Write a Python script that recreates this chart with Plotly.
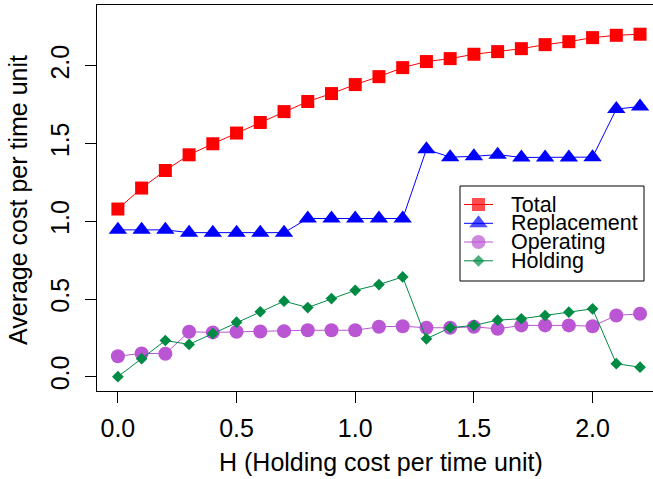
import plotly.graph_objects as go

# ---------------- data ----------------
H = [0.0, 0.1, 0.2, 0.3, 0.4, 0.5, 0.6, 0.7, 0.8, 0.9, 1.0, 1.1,
     1.2, 1.3, 1.4, 1.5, 1.6, 1.7, 1.8, 1.9, 2.0, 2.1, 2.2]

total = [1.079, 1.214, 1.327, 1.428, 1.499, 1.568, 1.636, 1.706, 1.771, 1.822,
         1.880, 1.931, 1.989, 2.028, 2.047, 2.075, 2.092, 2.111, 2.137, 2.156,
         2.182, 2.197, 2.204]

replacement = [0.945, 0.945, 0.945, 0.927, 0.927, 0.927, 0.927, 0.927, 1.018, 1.018,
               1.018, 1.018, 1.018, 1.463, 1.413, 1.418, 1.429, 1.411, 1.411, 1.411,
               1.413, 1.722, 1.739]

operating = [0.132, 0.150, 0.148, 0.289, 0.285, 0.289, 0.291, 0.293, 0.299, 0.299,
             0.299, 0.321, 0.325, 0.315, 0.315, 0.321, 0.308, 0.330, 0.330, 0.330,
             0.325, 0.394, 0.405]

holding = [0.000, 0.116, 0.233, 0.208, 0.278, 0.351, 0.418, 0.486, 0.445, 0.503,
           0.556, 0.593, 0.642, 0.244, 0.315, 0.330, 0.364, 0.373, 0.394, 0.415,
           0.437, 0.084, 0.061]

series_names = ["Total", "Replacement", "Operating", "Holding"]
x_ticks = [0.0, 0.5, 1.0, 1.5, 2.0]
x_ticklabels = ["0.0", "0.5", "1.0", "1.5", "2.0"]
y_ticks = [0.0, 0.5, 1.0, 1.5, 2.0]
y_ticklabels = ["0.0", "0.5", "1.0", "1.5", "2.0"]

# ---------------- styles ----------------
FONT = "Liberation Sans, Arial, sans-serif"
styles = {
    "Total": dict(color="#FF0000", symbol="square", size=13),
    "Replacement": dict(color="#0000FF", symbol="triangle-up", size=16),
    "Operating": dict(color="#BA55D3", symbol="circle", size=14),
    "Holding": dict(color="#008B45", symbol="diamond", size=9),
}
values = {"Total": total, "Replacement": replacement,
          "Operating": operating, "Holding": holding}

W, Hh = 653, 479
ML, MR, MT, MB = 97, 0, 5, 88
PW = W - ML - MR
PH = Hh - MT - MB


def px(xp):
    return (xp - ML) / PW


def py(yp):
    return (Hh - MB - yp) / PH


fig = go.Figure()

for name in series_names:
    st = styles[name]
    fig.add_trace(go.Scatter(
        x=H, y=values[name], mode="lines+markers", name=name,
        line=dict(color=st["color"], width=1),
        marker=dict(color=st["color"], symbol=st["symbol"], size=st["size"],
                    line=dict(width=0)),
        showlegend=False, cliponaxis=False,
    ))

# ---------------- custom legend (R style) ----------------
leg_rows = [204.5, 223.3, 242.0, 260.8]
for name, ry in zip(series_names, leg_rows):
    st = styles[name]
    fig.add_trace(go.Scatter(
        x=[px(464), px(478.5), px(493)], y=[py(ry)] * 3,
        xaxis="x2", yaxis="y2", mode="lines+markers",
        line=dict(color=st["color"], width=1),
        marker=dict(color=st["color"], symbol=st["symbol"],
                    size=[0, st["size"], 0], line=dict(width=0)),
        showlegend=False, hoverinfo="skip",
    ))

annotations = []
for name, ry in zip(series_names, leg_rows):
    annotations.append(dict(
        x=px(509), y=py(ry), xref="paper", yref="paper", text=name,
        showarrow=False, xanchor="left", yanchor="middle",
        font=dict(family=FONT, size=21.5, color="black"),
    ))

annotations.append(dict(
    x=px(381), y=py(462), xref="paper", yref="paper",
    text="H (Holding cost per time unit)", showarrow=False,
    xanchor="center", yanchor="middle",
    font=dict(family=FONT, size=25, color="black"),
))
annotations.append(dict(
    x=px(18), y=py(200), xref="paper", yref="paper",
    text="Average cost per time unit", showarrow=False, textangle=-90,
    xanchor="center", yanchor="middle",
    font=dict(family=FONT, size=25, color="black"),
))

shapes = [dict(
    type="rect", xref="paper", yref="paper",
    x0=px(460), x1=px(644), y0=py(281), y1=py(186),
    line=dict(color="black", width=1), fillcolor="white", layer="below",
)]

fig.update_layout(
    width=W, height=Hh,
    margin=dict(l=ML, r=MR, t=MT, b=MB, pad=0),
    paper_bgcolor="white", plot_bgcolor="white",
    font=dict(family=FONT, size=25, color="black"),
    showlegend=False,
    annotations=annotations, shapes=shapes,
    xaxis=dict(
        range=[-0.088, 2.2546], tickvals=x_ticks, ticktext=x_ticklabels,
        ticks="outside", ticklen=11, tickwidth=1, tickcolor="black",
        ticklabelstandoff=4,
        showline=True, linecolor="black", linewidth=1, mirror=True,
        showgrid=False, zeroline=False,
        tickfont=dict(family=FONT, size=25, color="black"),
    ),
    yaxis=dict(
        range=[-0.092, 2.392], tickvals=y_ticks, ticktext=y_ticklabels,
        tickangle=-90, ticklabelstandoff=6,
        ticks="outside", ticklen=11, tickwidth=1, tickcolor="black",
        showline=True, linecolor="black", linewidth=1, mirror=False,
        showgrid=False, zeroline=False,
        tickfont=dict(family=FONT, size=25, color="black"),
    ),
    xaxis2=dict(overlaying="x", range=[0, 1], visible=False, fixedrange=True),
    yaxis2=dict(overlaying="y", range=[0, 1], visible=False, fixedrange=True),
)

fig.write_html("out.html")
